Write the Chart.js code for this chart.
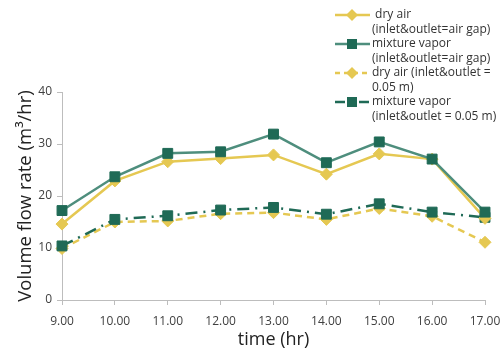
<!DOCTYPE html>
<html>
<head>
<meta charset="utf-8">
<script src="https://cdn.jsdelivr.net/npm/chart.js@4/dist/chart.umd.min.js"></script>
<style>
  html,body{margin:0;padding:0;background:#fff;}
  #wrap{position:relative;width:502px;height:349px;}
  canvas{position:absolute;left:0;top:0;}
  #legend{position:absolute;left:334px;top:6px;font-family:"Open Sans",sans-serif;font-size:12px;color:#333;line-height:15px;}
  .item{position:relative;padding-left:38px;margin-bottom:-1px;}
  .item svg{position:absolute;left:0;top:0;}
</style>
</head>
<body>
<div id="wrap">
  <canvas id="c" width="502" height="349"></canvas>
  <div id="legend"></div>
</div>
<script>
const categories = ["9.00","10.00","11.00","12.00","13.00","14.00","15.00","16.00","17.00"];
const dryAirGap = [14.6, 22.9, 26.6, 27.2, 27.9, 24.2, 28.1, 27.1, 15.7];
const vaporGap = [17.2, 23.7, 28.2, 28.5, 31.9, 26.4, 30.4, 27.1, 16.9];
const dryAir005 = [9.9, 15.0, 15.2, 16.6, 16.8, 15.5, 17.6, 16.1, 11.1];
const vapor005 = [10.4, 15.5, 16.2, 17.3, 17.8, 16.5, 18.5, 16.9, 15.9];
const yTicks = [0, 10, 20, 30, 40];
const labels = [
  ["\u00a0dry air", "(inlet&outlet=air gap)"],
  ["mixture vapor", "(inlet&outlet=air gap)"],
  ["dry air  (inlet&outlet =", "0.05 m)"],
  ["mixture vapor", "(inlet&outlet = 0.05 m)"]
];

const YELLOW = "#E5C852";
const TEAL_LINE = "#4E8E7D";
const TEAL_MARK = "#1F6A56";

const datasets = [
  {label: labels[0].join(" "), data: dryAirGap, borderColor: YELLOW, backgroundColor: YELLOW,
   pointStyle: "rectRot", pointRadius: 6, pointBorderColor: YELLOW, pointBackgroundColor: YELLOW, borderWidth: 2.5, order: 2},
  {label: labels[1].join(" "), data: vaporGap, borderColor: TEAL_LINE, backgroundColor: TEAL_MARK,
   pointStyle: "rect", pointRadius: 7, pointBorderColor: TEAL_MARK, pointBackgroundColor: TEAL_MARK, borderWidth: 2.5, order: 1},
  {label: labels[2].join(" "), data: dryAir005, borderColor: YELLOW, backgroundColor: YELLOW, borderDash: [7, 5],
   pointStyle: "rectRot", pointRadius: 6, pointBorderColor: YELLOW, pointBackgroundColor: YELLOW, borderWidth: 2.5, order: 4},
  {label: labels[3].join(" "), data: vapor005, borderColor: TEAL_MARK, backgroundColor: TEAL_MARK, borderDash: [12, 6, 2, 6],
   pointStyle: "rect", pointRadius: 7, pointBorderColor: TEAL_MARK, pointBackgroundColor: TEAL_MARK, borderWidth: 2.5, order: 3}
];
datasets.forEach(d => { d.fill = false; d.tension = 0; d.pointBorderWidth = 1; d.pointHoverRadius = d.pointRadius; });

const axisGray = "#BDBDBD";
const tickFont = {family: "'Open Sans', sans-serif", size: 12};

new Chart(document.getElementById("c"), {
  type: "line",
  data: {labels: categories, datasets},
  options: {
    responsive: false,
    animation: false,
    layout: {padding: {top: 92, right: 17, bottom: 0, left: 0}},
    plugins: {legend: {display: false}, tooltip: {enabled: false}},
    scales: {
      x: {
        offset: false,
        grid: {display: true, drawOnChartArea: false, color: axisGray, tickLength: 5},
        border: {color: axisGray, width: 1},
        ticks: {color: "#404040", font: tickFont, padding: 9, maxRotation: 0, autoSkip: false},
        title: {display: true, text: "time (hr)", color: "#222", font: {family: "'Open Sans', sans-serif", size: 18}, padding: {top: 3, bottom: -2}},
        afterFit: s => { s.height = 49; s.paddingRight = 0; s.paddingLeft = 0; }
      },
      y: {
        min: 0, max: 40,
        afterBuildTicks: s => { s.ticks = yTicks.map(v => ({value: v})); },
        grid: {display: true, drawOnChartArea: false, color: axisGray, tickLength: 5},
        border: {color: axisGray, width: 1},
        ticks: {color: "#404040", font: tickFont, padding: 5},
        title: {display: true, text: "Volume flow rate (m³/hr)", color: "#222", font: {family: "'Open Sans', sans-serif", size: 18.5}, padding: {top: 15, bottom: 0}},
        afterFit: s => { s.width = 62; }
      }
    }
  }
});

// HTML legend
const legend = document.getElementById("legend");
const specs = [
  {color: YELLOW, dash: "", marker: "diamond"},
  {color: TEAL_LINE, dash: "", marker: "square"},
  {color: YELLOW, dash: "5,4", marker: "diamond"},
  {color: TEAL_MARK, dash: "10,6,2,6", marker: "square"}
];
labels.forEach((lab, i) => {
  const sp = specs[i];
  const div = document.createElement("div");
  div.className = "item";
  const mk = sp.marker === "diamond"
    ? `<polygon points="18,3 24,9 18,15 12,9" fill="${sp.color}"/>`
    : `<rect x="13" y="4" width="10" height="10" fill="${TEAL_MARK}"/>`;
  div.innerHTML = `<svg width="38" height="18"><line x1="1" y1="9" x2="36" y2="9" stroke="${sp.color}" stroke-width="2.5" ${sp.dash ? `stroke-dasharray="${sp.dash}"` : ""}/>${mk}</svg>` +
    `<div>${lab[0]}</div><div>${lab[1]}</div>`;
  legend.appendChild(div);
});
</script>
</body>
</html>
